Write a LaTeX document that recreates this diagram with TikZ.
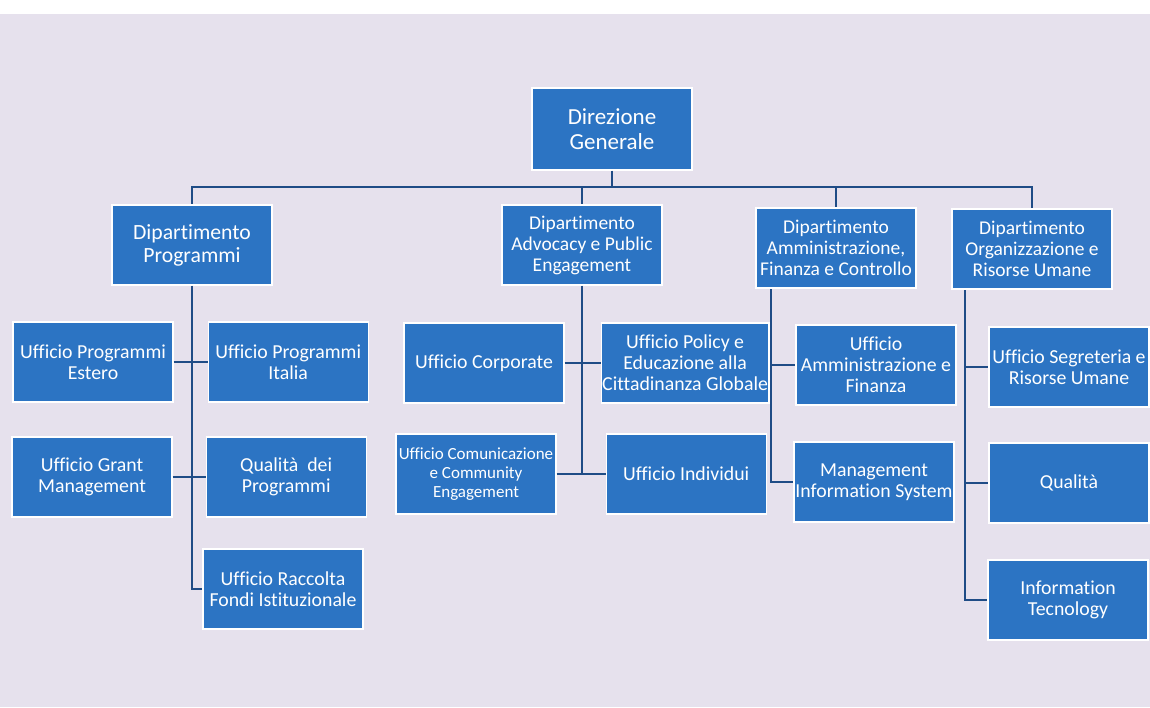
\documentclass[tikz,border=0pt]{standalone}
\usepackage{fontspec}
\setmainfont{Carlito}[Ligatures=NoCommon]
\usepackage{tikz}
\usetikzlibrary{arrows,positioning}
\usepackage{xcolor}
\definecolor{boxblue}{HTML}{2C74C3}
\definecolor{linkblue}{HTML}{1F4C86}
\definecolor{paper}{HTML}{E6E1ED}

\begin{document}
\begin{tikzpicture}[x=1pt,y=-1pt,line width=1.6pt,draw=linkblue]
				\tikzstyle{box}=
				[rectangle,fill=boxblue,draw=white,line width=1.2pt,text=white,
				 align=center,minimum width=160pt,minimum height=80pt,inner sep=1pt]
				\tikzstyle{capo}=[box,minimum height=82pt,font=\fontsize{23}{25}\selectfont]
				\tikzstyle{dip}=[box,font=\fontsize{19.5}{21}\selectfont]
				\tikzstyle{uff}=[box,font=\fontsize{19.8}{21}\selectfont]
				\tikzstyle{link}=[draw=linkblue,line width=1.6pt]
				
				% fondo
				\fill[paper] (0,14) rectangle (1150,707);
				\useasboundingbox (0,0) rectangle (1150,707);
				
				\node[capo] (DG) at (612,129) {Direzione\\Generale};
				
				\node[dip] (P) at (192,245) [font=\fontsize{21.7}{23}\selectfont] {Dipartimento\\Programmi};
				\node[dip] (A) at (582,245) {Dipartimento\\Advocacy e Public\\Engagement};
				\node[dip] (F) at (836,248) {Dipartimento\\Amministrazione,\\Finanza e Controllo};
				\node[dip] (O) at (1032,249) {Dipartimento\\Organizzazione e\\Risorse Umane};
				
				\node[uff] (PE) at (93,362) {Ufficio Programmi\\Estero};
				\node[uff] (PI) [right=34pt of PE] {Ufficio Programmi\\Italia};
				\node[uff] (GM) at (92,477) {Ufficio Grant\\Management};
				\node[uff] (QP) [right=33pt of GM] {Qualità~ dei\\Programmi};
				\node[uff] (RF) at (283,589) {Ufficio Raccolta\\Fondi Istituzionale};
				
				\node[uff] (UC) at (484,363) {Ufficio Corporate};
				\node[uff] (UP) [right=36pt of UC] {Ufficio Policy e\\Educazione alla\\Cittadinanza Globale};
				\node[uff] (CE) at (476,474) [font=\fontsize{17}{18.7}\selectfont] {Ufficio Comunicazione\\e Community\\Engagement};
				\node[uff] (UI) [right=49pt of CE] {Ufficio Individui};
				
				\node[uff] (AF) at (876,365) {Ufficio\\Amministrazione e\\Finanza};
				\node[uff] (MI) at (874,482) {Management\\Information System};
				
				\node[uff] (SR) at (1069,367) {Ufficio Segreteria e\\Risorse Umane};
				\node[uff] (QU) at (1069,483) {Qualità};
				\node[uff] (IT) at (1068,600) {Information\\Tecnology};
				
				% collegamenti
				\coordinate (bus) at (612,187);
				\coordinate (fs) at (771,289);
				\coordinate (os) at (965,290);
				
				\draw[link] (DG.south) -- (bus);
				\foreach \d in {P,A,F,O}
					\draw[link] (bus) -| (\d.north);
				
				\draw[link] (P.south) |- (RF.west);
				\draw[link] (PE.east) -- (PI.west);
				\draw[link] (GM.east) -- (QP.west);
				
				\draw[link] (A.south) -- (A.south |- UI.west);
				\draw[link] (UC.east) -- (UP.west);
				\draw[link] (CE.east) -- (UI.west);
				
				\draw[link] (fs) |- (MI.west);
				\draw[link] (fs |- AF.west) -- (AF.west);
				
				\draw[link] (os) |- (IT.west);
				\draw[link] (os |- SR.west) -- (SR.west);
				\draw[link] (os |- QU.west) -- (QU.west);
			\end{tikzpicture}
\end{document}
